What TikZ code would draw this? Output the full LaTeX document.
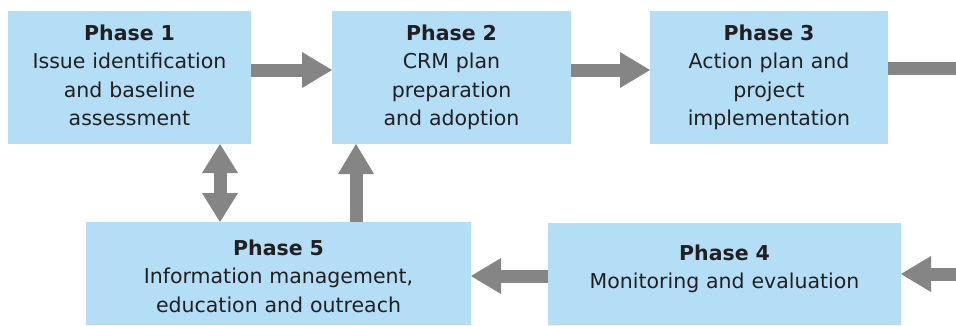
\documentclass[tikz,border=0pt]{standalone}
\usepackage{fontspec}
\setmainfont{DejaVu Sans}
\usetikzlibrary{arrows.meta}
\definecolor{phaseblue}{HTML}{B3DEF5}
\definecolor{arrowgray}{HTML}{858585}
\definecolor{phaseink}{HTML}{231F20}
\tikzset{
	phasebox/.style={fill=phaseblue, draw=none, inner sep=0pt, outer sep=0pt},
	phasetext/.style={anchor=base, text width=300pt, align=center, inner sep=0pt, text=phaseink, font=\fontsize{20.5}{28.5}\selectfont},
	flow/.style={draw=arrowgray, line width=13pt, -{Triangle[length=30pt, width=36pt, line width=0pt]}},
	flowboth/.style={draw=arrowgray, line width=13pt, {Triangle[length=29pt, width=36pt, line width=0pt]}-{Triangle[length=29pt, width=36pt, line width=0pt]}}
}
\begin{document}
\begin{tikzpicture}[x=1pt, y=-1pt]
		\useasboundingbox (0, 0) rectangle (956, 325);
		\clip (0, 0) rectangle (956, 325);

		\node[phasebox, minimum width=243pt, minimum height=133pt] (p1) at (129.5, 77.5) {};
		\node[phasebox, minimum width=239pt, minimum height=133pt] (p2) at (451.5, 77.5) {};
		\node[phasebox, minimum width=238pt, minimum height=133pt] (p3) at (769, 77.5) {};
		\node[phasebox, minimum width=353pt, minimum height=102pt] (p4) at (724.5, 274) {};
		\node[phasebox, minimum width=385pt, minimum height=103pt] (p5) at (278.5, 273.5) {};

		\node[phasetext] (t1) at (129.5, 40) {\textbf{Phase 1}\\Issue identification\\and baseline\\assessment};
		\node[phasetext] (t2) at (451.5, 40) {\textbf{Phase 2}\\CRM plan\\preparation\\and adoption};
		\node[phasetext] (t3) at (769, 40) {\textbf{Phase 3}\\Action plan and\\project\\implementation};
		\node[phasetext] (t4) at (724.5, 260) {\textbf{Phase 4}\\Monitoring and evaluation};
		\node[phasetext] (t5) at (278.5, 255) {\textbf{Phase 5}\\Information management,\\education and outreach};

		\draw[flow] ([yshift=7.5pt]p1.east) -- ([yshift=7.5pt]p2.west);
		\draw[flow] ([yshift=7.5pt]p2.east) -- ([yshift=7.5pt]p3.west);
		\draw[flow] ([yshift=9.5pt]p3.east) -| ([xshift=100pt]p4.east) -- (p4.east);
		\draw[flow] ([yshift=-2pt]p4.west) -- ([yshift=-2pt]p4.west -| p5.east);
		\draw[flow] ([xshift=-95.5pt]p2.south |- p5.north) -- ([xshift=-95.5pt]p2.south);
		\draw[flowboth] ([xshift=90.5pt]p1.south) -- ([xshift=90.5pt]p1.south |- p5.north);
	\end{tikzpicture}
\end{document}
